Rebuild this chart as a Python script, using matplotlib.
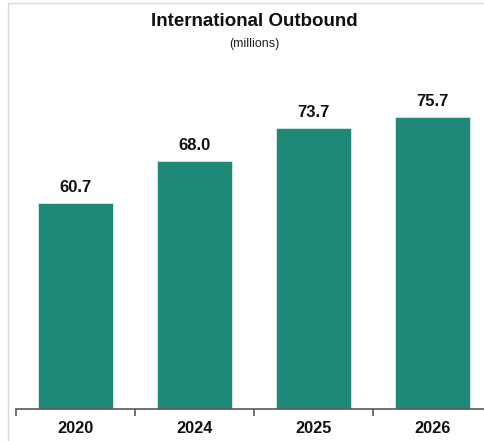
import matplotlib.pyplot as plt
from matplotlib.patches import Rectangle

years = ['2020', '2024', '2025', '2026']
travellers = [60.7, 68.0, 73.7, 75.7]

bar_color = '#1f8876'
axis_color = '#595959'

plt.rcParams['font.family'] = ['Liberation Sans', 'DejaVu Sans']

W, H = 484, 441
fig = plt.figure(figsize=(W / 100, H / 100), dpi=100)

# light frame around the chart area (right side runs off the canvas)
fig.add_artist(Rectangle((8 / W, -0.1), 1.2, (H - 3) / H + 0.1, transform=fig.transFigure,
                         fill=False, edgecolor='#d9d9d9', linewidth=1))

# axes placed in pixels; the last category is cut by the right edge
left, right = 16, 492
bottom, top = 408.5, 60
ax = fig.add_axes([left / W, (H - bottom) / H, (right - left) / W, (bottom - top) / H])

x = list(range(len(years)))
bars = ax.bar(x, travellers, width=0.63, color=bar_color, edgecolor='white', linewidth=0.4)

ax.set_xlim(-0.5, len(years) - 0.5)
ax.set_ylim(25, 85.6)

for xi, v in zip(x, travellers):
    ax.annotate(f'{v:.1f}', (xi, v), xytext=(0, 6), textcoords='offset points',
                ha='center', va='bottom', fontsize=12, fontweight='bold', color='#111111')

for side in ['top', 'right', 'left']:
    ax.spines[side].set_visible(False)
ax.spines['bottom'].set_color(axis_color)
ax.spines['bottom'].set_linewidth(1.2)
ax.set_yticks([])

ax.set_xticks(x)
ax.set_xticklabels(years, fontsize=11.8, fontweight='bold', color='#111111')
ax.tick_params(axis='x', which='major', length=0, pad=9)
ax.set_xticks([i - 0.5 for i in range(len(years) + 1)], minor=True)
ax.tick_params(axis='x', which='minor', length=5, width=1.2, color=axis_color, direction='out')

fig.text(254 / W, 1 - 22 / H, 'International Outbound', ha='center', va='center',
         fontsize=13.5, fontweight='bold', color='#111111')
fig.text(254 / W, 1 - 44 / H, '(millions)', ha='center', va='center',
         fontsize=9, color='#222222')

fig.savefig('out.png', dpi=100, facecolor='white')
